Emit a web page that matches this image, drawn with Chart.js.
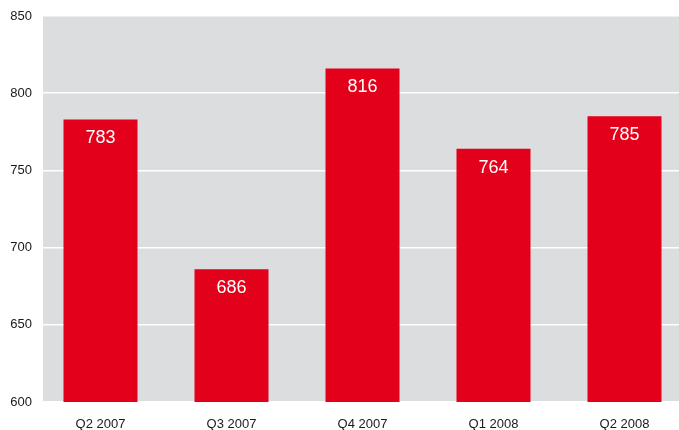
<!DOCTYPE html>
<html>
<head>
<meta charset="utf-8">
<script src="https://cdn.jsdelivr.net/npm/chart.js@4/dist/chart.umd.min.js"></script>
<style>
  html, body { margin: 0; padding: 0; background: #fff; overflow: hidden; }
  #wrap { width: 690px; height: 430px; position: relative; }
</style>
</head>
<body>
<div id="wrap"><canvas id="chart"></canvas></div>
<script>
// Chart data
const quarters = ['Q2 2007', 'Q3 2007', 'Q4 2007', 'Q1 2008', 'Q2 2008'];
const values = [783, 686, 816, 764, 785];
const yTicks = [600, 650, 700, 750, 800, 850];

// grey plot background, starts a little right of the axis
const plotBackground = {
    id: 'plotBackground',
    beforeDraw(chart) {
        const { ctx, chartArea } = chart;
        ctx.save();
        ctx.fillStyle = '#dcdddf';
        ctx.fillRect(43, chartArea.top, chart.width - 43, chartArea.bottom - chartArea.top);
        ctx.restore();
    }
};

// white value labels inside the bar tops
const valueLabels = {
    id: 'valueLabels',
    afterDatasetsDraw(chart) {
        const { ctx } = chart;
        const meta = chart.getDatasetMeta(0);
        ctx.save();
        ctx.fillStyle = '#ffffff';
        ctx.font = '18px "Liberation Sans", Arial, sans-serif';
        ctx.textAlign = 'center';
        ctx.textBaseline = 'middle';
        meta.data.forEach((bar, i) => {
            ctx.fillText(String(values[i]), bar.x, bar.y + 19);
        });
        ctx.restore();
    }
};

const ctx = document.getElementById('chart').getContext('2d');
new Chart(ctx, {
    type: 'bar',
    data: {
        labels: quarters,
        datasets: [{
            data: values,
            backgroundColor: '#e2001a',
            borderWidth: 0,
            barPercentage: 0.565,
            categoryPercentage: 1
        }]
    },
    options: {
        responsive: true,
        maintainAspectRatio: false,
        animation: false,
        layout: { padding: { top: 16, right: 0, bottom: 0, left: 0 } },
        plugins: {
            legend: { display: false },
            tooltip: { enabled: false }
        },
        scales: {
            x: {
                afterFit(scale) { scale.height = 28; },
                grid: { display: false },
                border: { display: false },
                ticks: {
                    color: '#1a1a1a',
                    padding: 7,
                    font: { family: '"Liberation Sans", Arial, sans-serif', size: 13 }
                }
            },
            y: {
                min: 600,
                max: 850,
                afterFit(scale) { scale.width = 35; },
                afterBuildTicks(scale) { scale.ticks = yTicks.map(v => ({ value: v })); },
                grid: { color: '#ffffff', lineWidth: 1.5, drawTicks: false },
                border: { display: false },
                ticks: {
                    color: '#1a1a1a',
                    padding: 3,
                    font: { family: '"Liberation Sans", Arial, sans-serif', size: 13 }
                }
            }
        }
    },
    plugins: [plotBackground, valueLabels]
});
</script>
</body>
</html>
